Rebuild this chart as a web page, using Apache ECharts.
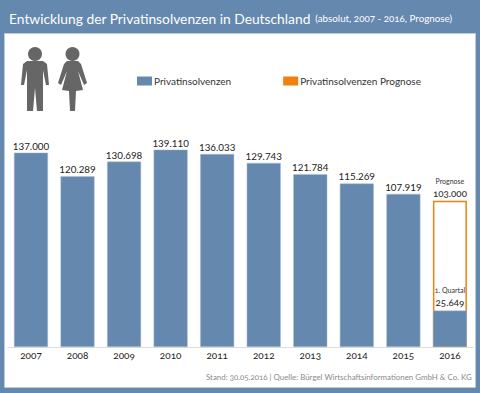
<!DOCTYPE html>
<html><head><meta charset="utf-8">
<style>html,body{margin:0;padding:0;background:#fff}#c{width:480px;height:393px}
text{font-variant-numeric:oldstyle-nums;font-feature-settings:"onum" 1}</style>
<script src="https://cdn.jsdelivr.net/npm/echarts@6/dist/echarts.min.js"></script>
</head><body><div id="c"></div>
<script>
const categories=['2007','2008','2009','2010','2011','2012','2013','2014','2015','2016'];
const insolvencies=[137000,120289,130698,139110,136033,129743,121784,115269,107919,25649];
const forecast=[null,null,null,null,null,null,null,null,null,103000];
const seriesNames=['Privatinsolvenzen','Privatinsolvenzen Prognose'];
const titleText='Entwicklung der Privatinsolvenzen in Deutschland';
const subtitleText='(absolut, 2007 - 2016, Prognose)';
const sourceText='Stand: 30.05.2016 | Quelle: Bürgel Wirtschaftsinformationen GmbH & Co. KG';
const forecastNote='Prognose', quarterNote='1. Quartal';
const BLUE='#6488ae',ORANGE='#f0810f',FONT='Lato, "Open Sans", sans-serif';
const fmt=v=>String(v).replace(/\B(?=(\d{3})+$)/g,'.');
const chart=echarts.init(document.getElementById('c'),null,{renderer:'svg'});
chart.setOption({
 animation:false,backgroundColor:BLUE,textStyle:{fontFamily:FONT},
 title:{left:9,top:9,padding:0,text:'{a|'+titleText+'} {b|'+subtitleText+'}',
  textStyle:{fontWeight:'normal',rich:{a:{fontSize:13.8,color:'#fff',fontFamily:FONT,fontWeight:'normal'},b:{fontSize:9.8,color:'#fff',fontFamily:FONT,fontWeight:'normal'}}}},
 legend:{left:137,top:76,padding:0,itemWidth:15,itemHeight:9,itemGap:52,icon:'rect',
  textStyle:{fontSize:10,color:'#333',padding:[0,0,0,-3]},
  data:[{name:seriesNames[0],itemStyle:{color:BLUE,borderWidth:0}},{name:seriesNames[1],itemStyle:{color:ORANGE,borderWidth:0}}]},
 grid:{left:7.7,right:6.8,top:120,height:227},
 xAxis:{type:'category',data:categories,axisTick:{show:false},axisLine:{lineStyle:{color:'#ddd'}},
  axisLabel:{color:'#222',fontSize:10,margin:3}},
 yAxis:{type:'value',min:0,max:160000,show:false},
 graphic:[
  {type:'rect',z:-10,silent:true,shape:{x:4.5,y:33.5,width:471,height:354},style:{fill:'#fff',stroke:'#b9cbdf',lineWidth:1}},
  {type:'text',z:10,left:206,top:373,style:{text:sourceText,fontSize:7.9,fill:'#8a8a8a',fontFamily:FONT}},
  {type:'group',z:5,silent:true,children:[
   {type:'circle',shape:{cx:35,cy:54,r:7},style:{fill:'#666'}},
   {type:'polygon',shape:{points:[[27,61],[43,61],[47,64],[49,85],[46,85],[43,70],[43,111],[37,111],[35,88],[33,111],[27,111],[27,70],[24,85],[21,85],[23,64]]},style:{fill:'#666'}},
   {type:'circle',shape:{cx:72.5,cy:54,r:7},style:{fill:'#666'}},
   {type:'polygon',shape:{points:[[67,61],[78,61],[81,64],[87,83],[84,85],[78,71],[83,90],[76,91],[75,111],[70,111],[69,91],[62,90],[67,71],[61,85],[58,83],[64,64]]},style:{fill:'#666'}}
  ]}
 ],
 series:[
  {name:seriesNames[1],type:'bar',data:forecast,barWidth:34,barGap:'-100%',z:2,
   itemStyle:{color:'#fff',borderColor:ORANGE,borderWidth:1.5},
   label:{show:true,position:'top',distance:1,color:'#222',
    formatter:p=>'{n|'+forecastNote+'}\n{v|'+fmt(p.value)+'}',
    rich:{n:{fontSize:7,color:'#333',lineHeight:12,align:'center'},v:{fontSize:9.8,color:'#222',lineHeight:13,align:'center'}}}},
  {name:seriesNames[0],type:'bar',data:insolvencies,barWidth:34,z:3,
   itemStyle:{color:BLUE,borderColor:'#a9bed4',borderWidth:0.5},
   label:{show:true,position:'top',distance:2,color:'#222',fontSize:9.8,
    formatter:p=>p.dataIndex===9?'{n|'+quarterNote+'}\n{v|'+fmt(p.value)+'}':fmt(p.value),
    rich:{n:{fontSize:7,color:'#333',lineHeight:12,align:'center'},v:{fontSize:9.8,color:'#222',lineHeight:13,align:'center'}}}}
 ]
});
</script></body></html>
